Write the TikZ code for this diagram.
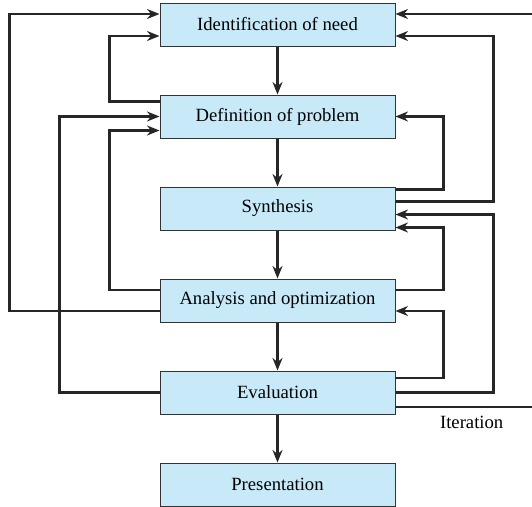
\documentclass[tikz,border=0pt]{standalone}
\usepackage{fontspec}
\setmainfont{Liberation Serif}
\usetikzlibrary{arrows.meta,positioning,calc}

\definecolor{stageblue}{HTML}{C8E9F8}
\tikzset{
  stage/.style = {draw=black!80, line width=0.6pt, fill=stageblue,
                  minimum width=141pt, minimum height=25.8pt, inner sep=0pt,
                  font=\fontsize{11.2}{13}\selectfont},
  flow/.style  = {line width=1.3pt, draw=black!85,
                  -{Stealth[length=7.5pt,width=6pt]}},
  link/.style  = {line width=1.3pt, draw=black!85},
  note/.style  = {font=\fontsize{11.2}{13}\selectfont}
}

\begin{document}
\begin{tikzpicture}[x=0.6pt, y=-0.6pt, node distance=28.8pt]
    \useasboundingbox (0,0) rectangle (532,506);

    \node[stage] (need) at (277.5,24.5) {Identification of need};
    \node[stage, below=of need] (prob) {Definition of problem};
    \node[stage, below=of prob] (syn)  {Synthesis};
    \node[stage, below=of syn]  (ana)  {Analysis and optimization};
    \node[stage, below=of ana]  (eval) {Evaluation};
    \node[stage, below=of eval] (pres) {Presentation};

    \draw[flow] (need) -- (prob);
    \draw[flow] (prob) -- (syn);
    \draw[flow] (syn)  -- (ana);
    \draw[flow] (ana)  -- (eval);
    \draw[flow] (eval) -- (pres);

    % feedback on the left
    \draw[flow] ($(ana.west)+(0,10.5)$)  -- ++(-150,0) |- ($(need.west)+(0,-10.5)$);
    \draw[flow] (eval.west)              -- ++(-100,0) |- (prob.west);
    \draw[flow] ($(prob.west)+(0,-15)$)  -- ++(-50,0)  |- ($(need.west)+(0,11.5)$);
    \draw[flow] ($(ana.west)+(0,-10.5)$) -- ++(-50,0)  |- ($(prob.west)+(0,14)$);

    % feedback on the right
    \draw[flow] ($(syn.east)+(0,-19)$)    -- ++(48,0) |- (prob.east);
    \draw[flow] ($(syn.east)+(0,-7)$)     -- ++(98,0) |- ($(need.east)+(0,11.5)$);
    \draw[flow] (eval.east)               -- ++(98,0) |- ($(syn.east)+(0,6)$);
    \draw[flow] ($(ana.east)+(0,-10.5)$)  -- ++(48,0) |- ($(syn.east)+(0,19)$);
    \draw[flow] ($(eval.east)+(0,-14.5)$) -- ++(48,0) |- ($(ana.east)+(0,10.5)$);

    % iteration
    \coordinate (iterout) at ($(eval.east)+(137,14.5)$);
    \coordinate (iterin)  at ($(need.east)+(137,-10.5)$);
    \draw[link] ($(eval.east)+(0,14.5)$) -- (iterout);
    \node[note, below left=2pt and 14pt of iterout] (iter) {Iteration};
    \draw[flow] (iterin) -- ($(need.east)+(0,-10.5)$);
\end{tikzpicture}
\end{document}
